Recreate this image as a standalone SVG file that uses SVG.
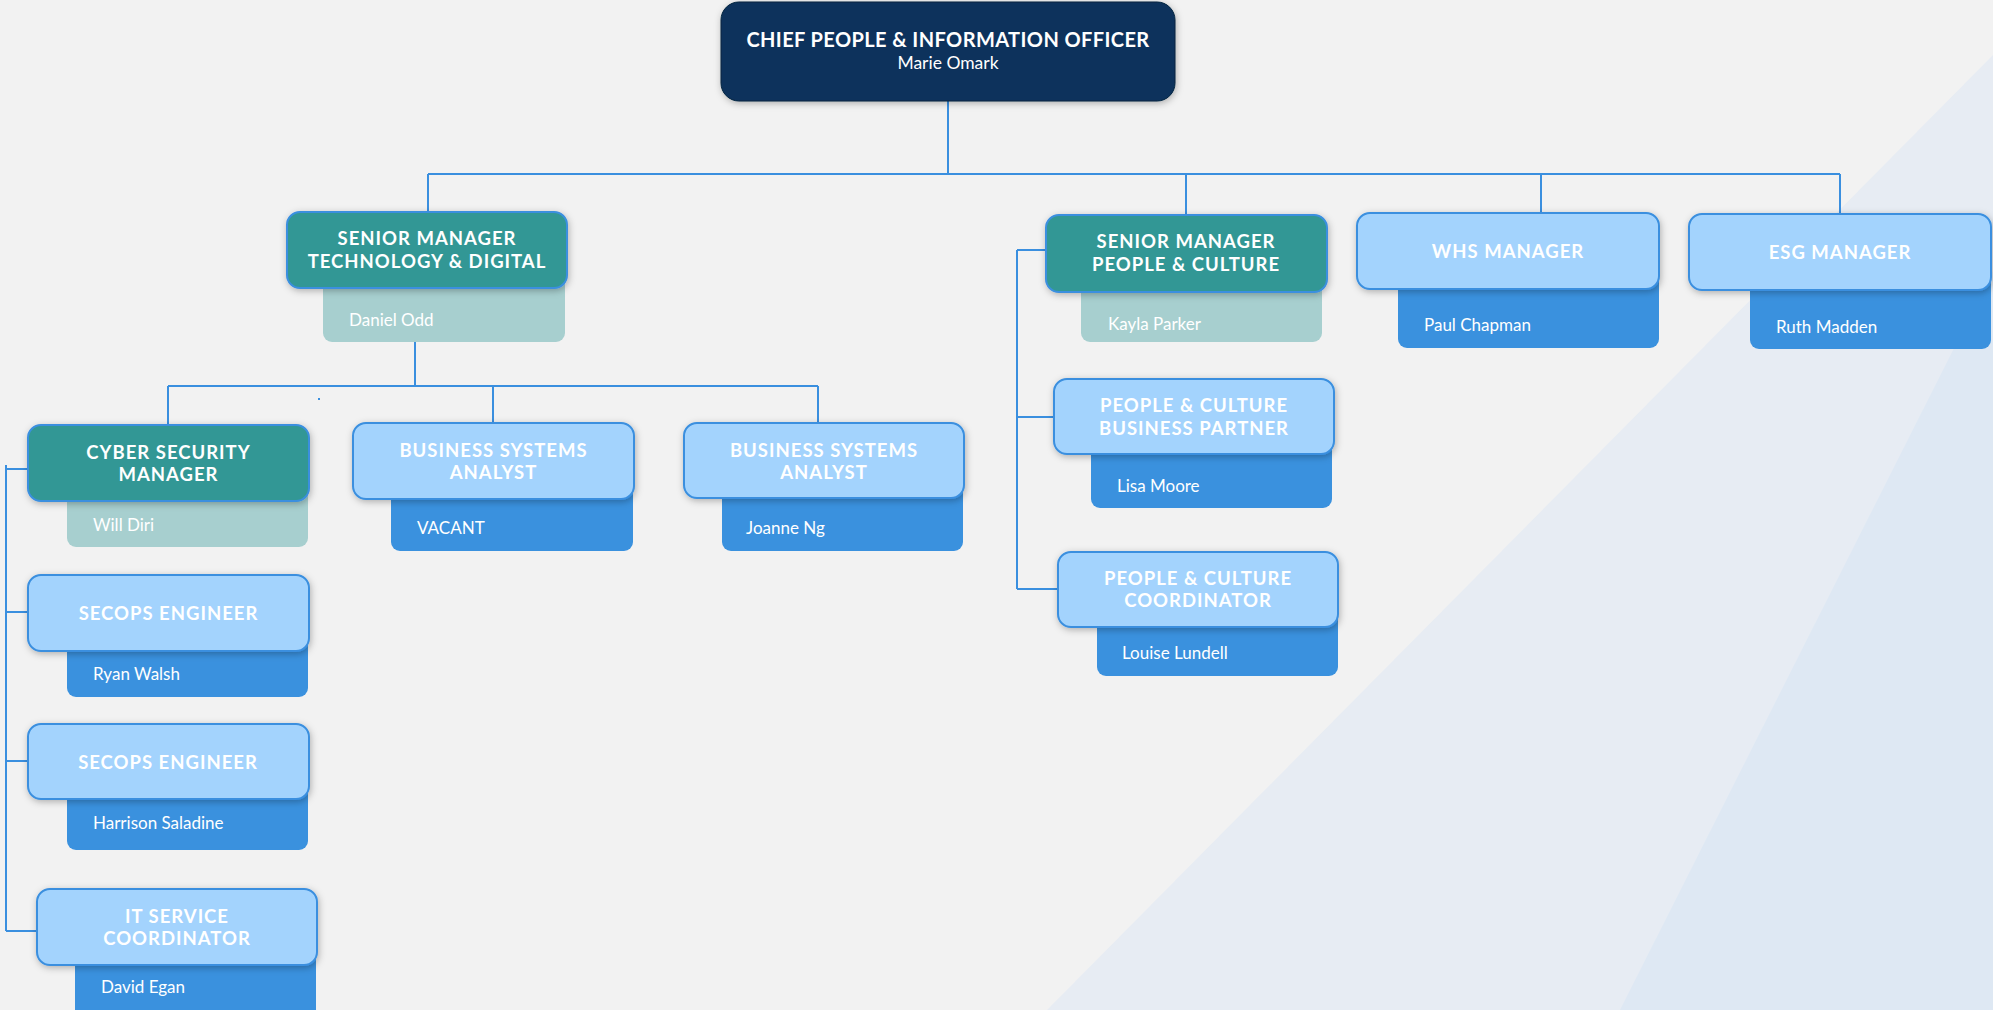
<svg xmlns="http://www.w3.org/2000/svg" width="1993" height="1010" viewBox="0 0 1993 1010">
  <defs>
    <filter id="shadow" x="-10%" y="-20%" width="120%" height="150%">
      <feDropShadow dx="1" dy="2" stdDeviation="3.5" flood-color="#000" flood-opacity="0.28"/>
    </filter>
    <style>
      .bg { fill: #f2f2f2; }
      .band1 { fill: #e7ecf3; }
      .band2 { fill: #dee8f3; }
      .link { fill: none; stroke: #3a8fdf; stroke-width: 2; }
      .ceo { fill: #0a325c; stroke: #06243f; stroke-width: 1; filter: url(#shadow); }
      .head-teal { fill: #339795; stroke: #3a8fdf; stroke-width: 2; filter: url(#shadow); }
      .head-blue { fill: #a3d3fd; stroke: #3a8fdf; stroke-width: 2; filter: url(#shadow); }
      .sub-teal { fill: #a7cfcf; }
      .sub-blue { fill: #3a91de; }
      .title { font-family: Lato, "Open Sans", sans-serif; font-weight: 700; font-size: 18.5px; letter-spacing: 1px; fill: #ffffff; text-anchor: middle; }
      .ceo-title { font-size: 20px; letter-spacing: 0.4px; }
      .ceo-name { font-family: Lato, "Open Sans", sans-serif; font-size: 17.5px; fill: #ffffff; text-anchor: middle; }
      .name { font-family: Lato, "Open Sans", sans-serif; font-size: 17px; fill: #ffffff; }
    </style>
  </defs>

  <!-- background with two diagonal bands -->
  <rect class="bg" x="0" y="0" width="1993" height="1010"/>
  <polygon class="band1" points="1047,1010 1993,55 1993,1010"/>
  <polygon class="band2" points="1620,1010 1993,271 1993,1010"/>

  <!-- connectors -->
  <g id="connectors">
    <path class="link" d="M948 101 V174"/>
    <path class="link" d="M428 174 H1840"/>
    <path class="link" d="M428 174 V212 M1186 174 V215 M1541 174 V213 M1840 174 V214"/>
    <path class="link" d="M415 342 V386"/>
    <path class="link" d="M168 386 H818"/>
    <path class="link" d="M168 386 V425 M493 386 V423 M818 386 V423"/>
    <path class="link" d="M6 465 V931 M6 469 H28 M6 612 H28 M6 761 H28 M6 931 H37"/>
    <path class="link" d="M1017 250 V589 M1017 250 H1046 M1017 417 H1054 M1017 589 H1058"/>
    <rect x="318" y="398" width="2" height="2" fill="#3a8fdf"/>
  </g>

  <!-- top level -->
  <g id="ceo">
    <rect class="ceo" x="721" y="2" width="454" height="99" rx="18"/>
    <text class="title ceo-title" x="948" y="47">CHIEF PEOPLE &amp; INFORMATION OFFICER</text>
    <text class="ceo-name" x="948" y="69">Marie Omark</text>
  </g>

  <!-- technology & digital branch -->
  <g id="sm-tech-digital">
    <rect class="sub-teal" x="323" y="250" width="242" height="92" rx="9"/>
    <rect class="head-teal" x="287" y="212" width="280" height="76" rx="13"/>
    <text class="title" x="427" y="245">SENIOR MANAGER</text>
    <text class="title" x="427" y="268">TECHNOLOGY &amp; DIGITAL</text>
    <text class="name" x="349" y="326">Daniel Odd</text>
  </g>

  <g id="cyber-security-manager">
    <rect class="sub-teal" x="67" y="460" width="241" height="87" rx="9"/>
    <rect class="head-teal" x="28" y="425" width="281" height="76" rx="13"/>
    <text class="title" x="168.5" y="459">CYBER SECURITY</text>
    <text class="title" x="168.5" y="481">MANAGER</text>
    <text class="name" x="93" y="531">Will Diri</text>
  </g>

  <g id="secops-engineer-1">
    <rect class="sub-blue" x="67" y="610" width="241" height="87" rx="9"/>
    <rect class="head-blue" x="28" y="575" width="281" height="76" rx="13"/>
    <text class="title" x="168.5" y="620">SECOPS ENGINEER</text>
    <text class="name" x="93" y="680">Ryan Walsh</text>
  </g>

  <g id="secops-engineer-2">
    <rect class="sub-blue" x="67" y="760" width="241" height="90" rx="9"/>
    <rect class="head-blue" x="28" y="724" width="281" height="75" rx="13"/>
    <text class="title" x="168" y="769">SECOPS ENGINEER</text>
    <text class="name" x="93" y="829">Harrison Saladine</text>
  </g>

  <g id="it-service-coordinator">
    <rect class="sub-blue" x="75" y="925" width="241" height="100" rx="9"/>
    <rect class="head-blue" x="37" y="889" width="280" height="76" rx="13"/>
    <text class="title" x="177" y="923">IT SERVICE</text>
    <text class="title" x="177" y="945">COORDINATOR</text>
    <text class="name" x="101" y="993">David Egan</text>
  </g>

  <g id="business-systems-analyst-1">
    <rect class="sub-blue" x="391" y="460" width="242" height="91" rx="9"/>
    <rect class="head-blue" x="353" y="423" width="281" height="76" rx="13"/>
    <text class="title" x="493.5" y="457">BUSINESS SYSTEMS</text>
    <text class="title" x="493.5" y="479">ANALYST</text>
    <text class="name" x="417" y="534">VACANT</text>
  </g>

  <g id="business-systems-analyst-2">
    <rect class="sub-blue" x="722" y="460" width="241" height="91" rx="9"/>
    <rect class="head-blue" x="684" y="423" width="280" height="75" rx="13"/>
    <text class="title" x="824" y="457">BUSINESS SYSTEMS</text>
    <text class="title" x="824" y="479">ANALYST</text>
    <text class="name" x="746" y="534">Joanne Ng</text>
  </g>

  <!-- people & culture branch -->
  <g id="sm-people-culture">
    <rect class="sub-teal" x="1081" y="250" width="241" height="92" rx="9"/>
    <rect class="head-teal" x="1046" y="215" width="281" height="77" rx="13"/>
    <text class="title" x="1186" y="248">SENIOR MANAGER</text>
    <text class="title" x="1186" y="271">PEOPLE &amp; CULTURE</text>
    <text class="name" x="1108" y="330">Kayla Parker</text>
  </g>

  <g id="pc-business-partner">
    <rect class="sub-blue" x="1091" y="415" width="241" height="93" rx="9"/>
    <rect class="head-blue" x="1054" y="379" width="280" height="75" rx="13"/>
    <text class="title" x="1194" y="412">PEOPLE &amp; CULTURE</text>
    <text class="title" x="1194" y="435">BUSINESS PARTNER</text>
    <text class="name" x="1117" y="492">Lisa Moore</text>
  </g>

  <g id="pc-coordinator">
    <rect class="sub-blue" x="1097" y="590" width="241" height="86" rx="9"/>
    <rect class="head-blue" x="1058" y="552" width="280" height="75" rx="13"/>
    <text class="title" x="1198" y="585">PEOPLE &amp; CULTURE</text>
    <text class="title" x="1198" y="607">COORDINATOR</text>
    <text class="name" x="1122" y="659">Louise Lundell</text>
  </g>

  <g id="whs-manager">
    <rect class="sub-blue" x="1398" y="250" width="261" height="98" rx="9"/>
    <rect class="head-blue" x="1357" y="213" width="302" height="76" rx="13"/>
    <text class="title" x="1508" y="258">WHS MANAGER</text>
    <text class="name" x="1424" y="331">Paul Chapman</text>
  </g>

  <g id="esg-manager">
    <rect class="sub-blue" x="1750" y="250" width="241" height="99" rx="9"/>
    <rect class="head-blue" x="1689" y="214" width="302" height="76" rx="13"/>
    <text class="title" x="1840" y="259">ESG MANAGER</text>
    <text class="name" x="1776" y="333">Ruth Madden</text>
  </g>
</svg>
